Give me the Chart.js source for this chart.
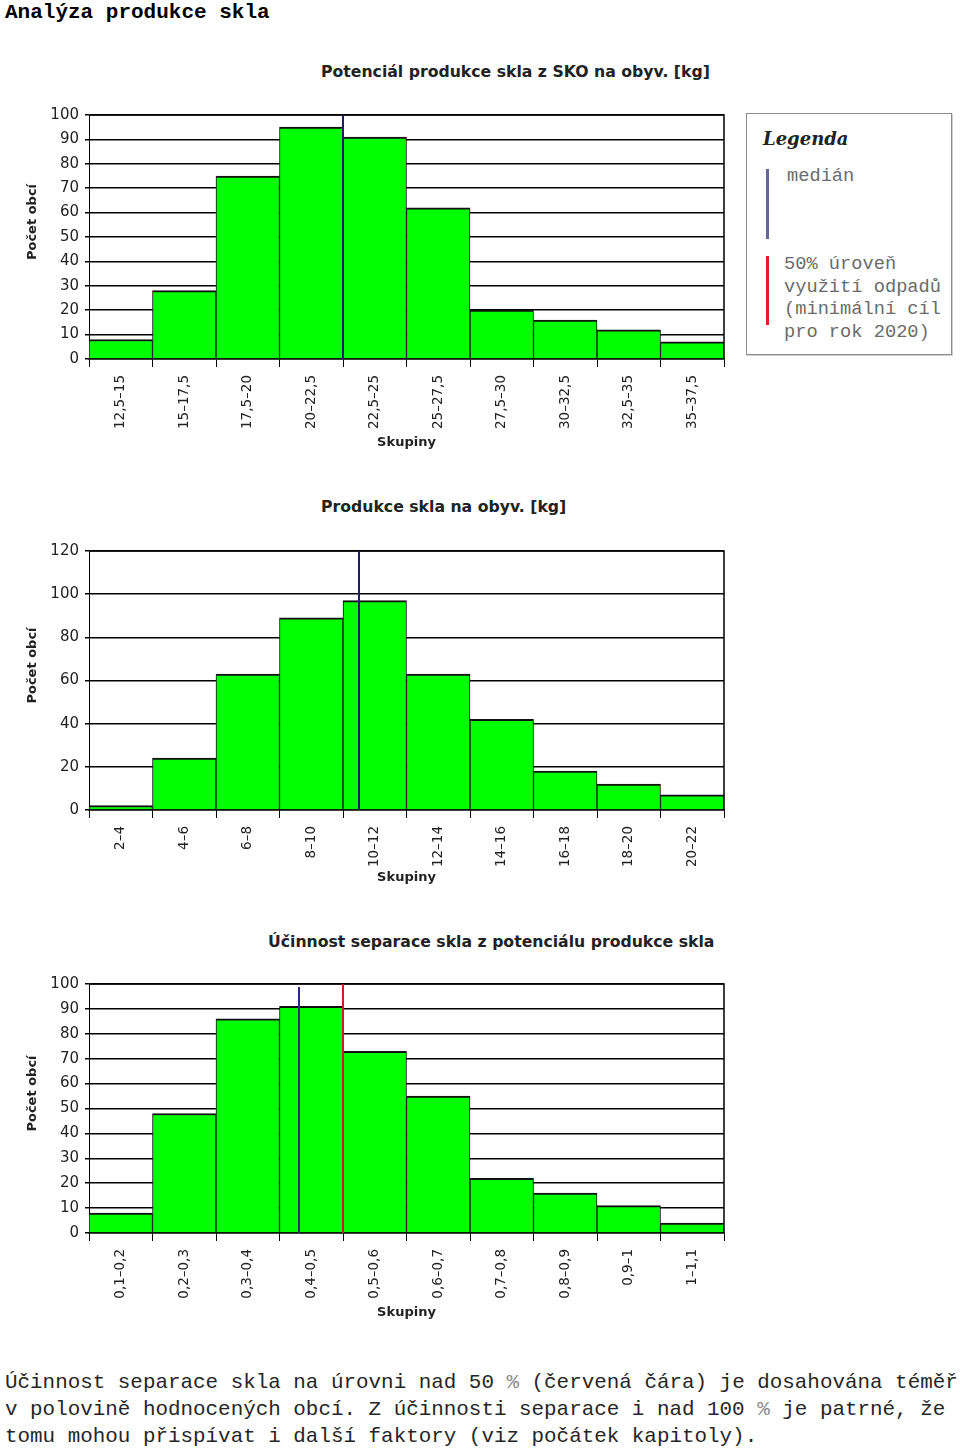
<!DOCTYPE html>
<html lang="cs">
<head>
<meta charset="utf-8">
<title>Analýza produkce skla</title>
<script src="https://cdn.jsdelivr.net/npm/chart.js@4/dist/chart.umd.min.js"></script>
<style>
  html, body { margin: 0; padding: 0; background: #fff; }
  body { position: relative; width: 960px; height: 1450px; overflow: hidden; }
  .abs { position: absolute; white-space: nowrap; }
  .mono { font-family: "Liberation Mono", "Courier New", monospace; }
  #page-title { left: 5px; top: 1px; font-size: 21px; line-height: 24px; font-weight: bold; color: #000; }
  .chart-title { font-family: "DejaVu Sans", Verdana, sans-serif; font-weight: bold; font-size: 15.7px; line-height: 18px; color: #222; }
  canvas.hist { position: absolute; left: 0; }
  #legend { left: 746px; top: 113px; width: 204px; height: 240px; border: 1px solid #8c8c8c; box-shadow: 1px 1px 0 #d0d0d0; }
  #legend .head { position: absolute; left: 16px; top: 14px; font-family: "DejaVu Serif", "Liberation Serif", serif; font-weight: bold; font-style: italic; font-size: 18px; line-height: 22px; color: #222; }
  #legend .bar { position: absolute; left: 19px; width: 3px; }
  #legend .txt { position: absolute; font-size: 18.7px; line-height: 22.6px; color: #6b6b6b; }
  #footer { left: 5px; top: 1369px; font-size: 20.9px; line-height: 27px; color: #262626; }
  #footer .pct { color: #8a8a8a; }
</style>
</head>
<body>

<div id="page-title" class="abs mono">Analýza produkce skla</div>

<div class="abs chart-title" style="left:321px; top:63px;">Potenciál produkce skla z SKO na obyv. [kg]</div>
<canvas id="chartPotential" class="hist" width="740" height="359" style="top:100px;"></canvas>

<div class="abs chart-title" style="left:321px; top:498px;">Produkce skla na obyv. [kg]</div>
<canvas id="chartProduction" class="hist" width="740" height="374" style="top:536px;"></canvas>

<div class="abs chart-title" style="left:268px; top:933px;">Účinnost separace skla z potenciálu produkce skla</div>
<canvas id="chartEfficiency" class="hist" width="740" height="364" style="top:969px;"></canvas>

<div id="legend" class="abs">
  <div class="head">Legenda</div>
  <div class="bar" style="top:55px; height:70px; background:#64649a;"></div>
  <div class="txt mono" style="left:40px; top:51px;">medián</div>
  <div class="bar" style="top:142px; height:69px; background:#e02020;"></div>
  <div class="txt mono" style="left:37px; top:139px;">50% úroveň<br>využití odpadů<br>(minimální cíl<br>pro rok 2020)</div>
</div>

<div id="footer" class="abs mono">Účinnost separace skla na úrovni nad 50 <span class="pct">%</span> (červená čára) je dosahována téměř<br>v polovině hodnocených obcí. Z účinnosti separace i nad 100 <span class="pct">%</span> je patrné, že<br>tomu mohou přispívat i další faktory (viz počátek kapitoly).</div>

<script>
// ------------------------------------------
//  Data
// ------------------------------------------

// Potenciál produkce skla z SKO na obyv. [kg]
const potentialGroups = ['12,5–15', '15–17,5', '17,5–20', '20–22,5', '22,5–25', '25–27,5', '27,5–30', '30–32,5', '32,5–35', '35–37,5'];
const potentialCounts = [8, 28, 75, 95, 91, 62, 20, 16, 12, 7];
const potentialBinStart = 12.5;
const potentialBinWidth = 2.5;
const potentialMedian = 22.5;
const potentialYMax = 100;
const potentialYStep = 10;

// Produkce skla na obyv. [kg]
const productionGroups = ['2–4', '4–6', '6–8', '8–10', '10–12', '12–14', '14–16', '16–18', '18–20', '20–22'];
const productionCounts = [2, 24, 63, 89, 97, 63, 42, 18, 12, 7];
const productionBinStart = 2;
const productionBinWidth = 2;
const productionMedian = 10.5;
const productionYMax = 120;
const productionYStep = 20;

// Účinnost separace skla z potenciálu produkce skla
const efficiencyGroups = ['0,1–0,2', '0,2–0,3', '0,3–0,4', '0,4–0,5', '0,5–0,6', '0,6–0,7', '0,7–0,8', '0,8–0,9', '0,9–1', '1–1,1'];
const efficiencyCounts = [8, 48, 86, 91, 73, 55, 22, 16, 11, 4];
const efficiencyBinStart = 0.1;
const efficiencyBinWidth = 0.1;
const efficiencyMedian = 0.43;
const efficiencyTarget = 0.5;   // 50% úroveň využití odpadů
const efficiencyYMax = 100;
const efficiencyYStep = 10;

const MEDIAN_COLOR = '#1e1e66';
const TARGET_COLOR = '#cc1f1f';
const AXIS_FONT = '"DejaVu Sans", Verdana, sans-serif';

// Draws the plot frame, median/target lines and the axis titles
const histogramExtras = {
    id: 'histogramExtras',
    afterDatasetsDraw(chart, args, opts) {
        const { ctx, chartArea: a } = chart;
        const x = chart.scales.x;
        ctx.save();
        ctx.strokeStyle = '#000';
        ctx.lineWidth = 1.5;
        ctx.beginPath();
        ctx.moveTo(a.left, a.top);
        ctx.lineTo(a.right, a.top);
        ctx.lineTo(a.right, a.bottom);
        ctx.stroke();

        (opts.markers || []).forEach(m => {
            // value in real units -> fractional category index
            const idx = (m.value - opts.binStart) / opts.binWidth - 0.5;
            const px = Math.round(x.getPixelForValue(idx));
            ctx.strokeStyle = m.color;
            ctx.lineWidth = 2;
            ctx.beginPath();
            ctx.moveTo(px, a.top + (m.gap || 0));
            ctx.lineTo(px, a.bottom);
            ctx.stroke();
        });
        ctx.restore();
    },
    afterDraw(chart, args, opts) {
        const { ctx, chartArea: a } = chart;
        ctx.save();
        ctx.font = 'bold 13px ' + AXIS_FONT;
        ctx.fillStyle = '#222';
        ctx.textAlign = 'center';
        ctx.textBaseline = 'middle';
        ctx.fillText('Skupiny', (a.left + a.right) / 2, a.bottom + (opts.xTitleOffset || 84));
        ctx.translate(33, (a.top + a.bottom) / 2 - 15);
        ctx.rotate(-Math.PI / 2);
        ctx.fillText('Počet obcí', 0, 0);
        ctx.restore();
    }
};
Chart.register(histogramExtras);

function makeHistogram(canvasId, groups, counts, yMax, yStep, extras) {
    return new Chart(document.getElementById(canvasId), {
        type: 'bar',
        data: {
            labels: groups,
            datasets: [{
                data: counts,
                backgroundColor: '#00ff00',
                borderColor: '#111',
                borderWidth: { top: 2, left: 1, right: 1, bottom: 0 },
                barPercentage: 1,
                categoryPercentage: 1
            }]
        },
        options: {
            responsive: false,
            animation: false,
            layout: { padding: { top: 13, right: 16, bottom: 0, left: 0 } },
            plugins: {
                legend: { display: false },
                tooltip: { enabled: false },
                histogramExtras: extras
            },
            scales: {
                x: {
                    grid: { offset: true, drawOnChartArea: false, drawTicks: true, tickLength: 8, color: '#000', lineWidth: 1 },
                    border: { display: true, color: '#000', width: 1.5 },
                    ticks: {
                        autoSkip: false, minRotation: 90, maxRotation: 90, padding: 8,
                        color: '#222', font: { family: AXIS_FONT, size: 13.5 }
                    },
                    afterFit(scale) { scale.height = 100; }
                },
                y: {
                    min: 0, max: yMax,
                    grid: { color: '#000', lineWidth: 1.5, tickLength: 4, drawTicks: true },
                    border: { display: true, color: '#000', width: 1 },
                    ticks: {
                        stepSize: yStep, padding: 6,
                        color: '#222', font: { family: AXIS_FONT, size: 15 }
                    },
                    afterFit(scale) { scale.width = 89; }
                }
            }
        }
    });
}

makeHistogram('chartPotential', potentialGroups, potentialCounts, potentialYMax, potentialYStep, {
    binStart: potentialBinStart, binWidth: potentialBinWidth, xTitleOffset: 84,
    markers: [{ value: potentialMedian, color: MEDIAN_COLOR }]
});

makeHistogram('chartProduction', productionGroups, productionCounts, productionYMax, productionYStep, {
    binStart: productionBinStart, binWidth: productionBinWidth, xTitleOffset: 68,
    markers: [{ value: productionMedian, color: MEDIAN_COLOR }]
});

makeHistogram('chartEfficiency', efficiencyGroups, efficiencyCounts, efficiencyYMax, efficiencyYStep, {
    binStart: efficiencyBinStart, binWidth: efficiencyBinWidth, xTitleOffset: 80,
    markers: [
        { value: efficiencyMedian, color: '#2a2a80', gap: 3 },
        { value: efficiencyTarget, color: TARGET_COLOR }
    ]
});
</script>
</body>
</html>
